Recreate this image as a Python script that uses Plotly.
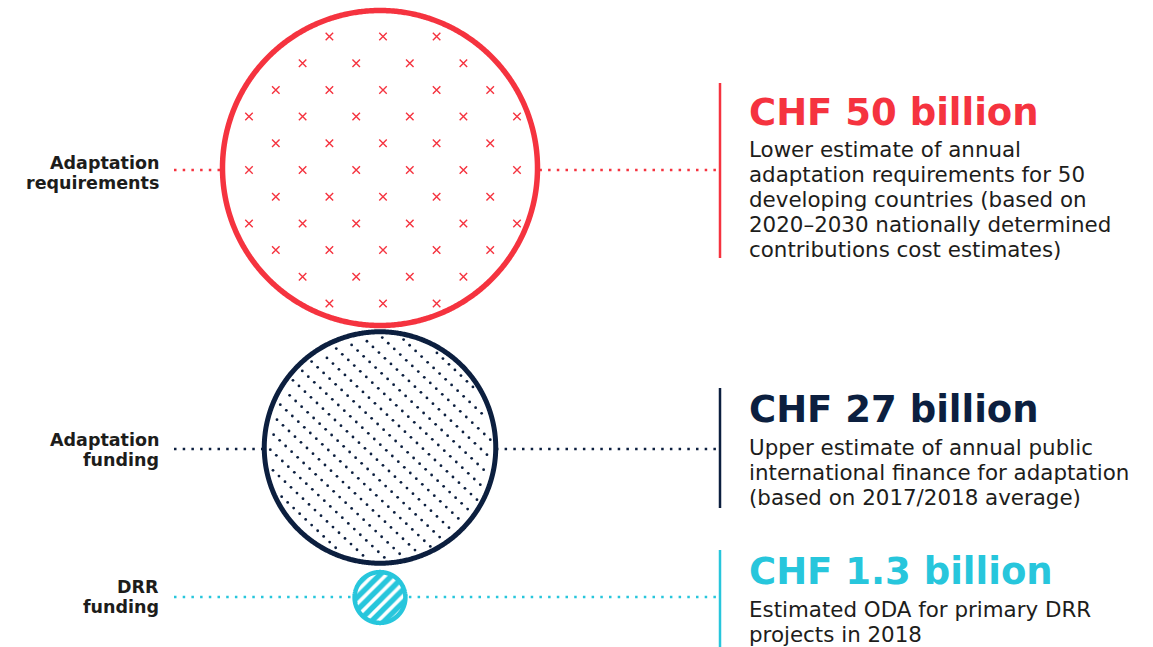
import numpy as np
import plotly.graph_objects as go

# ---------------- data ----------------
categories = ["Adaptation requirements", "Adaptation funding", "DRR funding"]
left_label_lines = [["Adaptation", "requirements"], ["Adaptation", "funding"], ["DRR", "funding"]]
values_bn = [50, 27, 1.3]
descriptions = [
    ["Lower estimate of annual",
     "adaptation requirements for 50",
     "developing countries (based on",
     "2020\u20132030 nationally determined",
     "contributions cost estimates)"],
    ["Upper estimate of annual public",
     "international finance for adaptation",
     "(based on 2017/2018 average)"],
    ["Estimated ODA for primary DRR",
     "projects in 2018"],
]

# ---------------- style / layout ----------------
W, H = 1153, 647
colors = ["#f5333f", "#0c1f3f", "#27c6dc"]
text_color = "#1d1d1b"
FONT = "DejaVu Sans"
CX = 380
centers_y = [168, 447.5, 597.5]
R_MAX = 157.5            # drawn radius for the largest value (area-proportional scaling)
outline_w = [5.5, 5, 4.5]
conn_y = [170, 449, 597]
left_baselines = [[169, 189.4], [446, 466.4], [593, 613.4]]
title_baselines = [125, 422.7, 584]
body_first = [157, 455, 617]
body_step = [25, 25, 24.5]
bar_spans = [(83, 258), (388, 508), (550, 647)]
BAR_X = 720
TEXT_X = 748
LEFT_X = 160
TITLE_FS, BODY_FS, LEFT_FS = 37, 21.4, 17.5

radii = [R_MAX * np.sqrt(v / max(values_bn)) for v in values_bn]

fig = go.Figure()

# dotted connectors
for i in range(3):
    fig.add_trace(go.Scatter(x=[174, 718], y=[conn_y[i]] * 2, mode="lines",
                             line=dict(color=colors[i], width=2.5, dash="2.5px,6.2px"),
                             hoverinfo="skip"))

theta = np.linspace(0, 2 * np.pi, 721)
for i in range(3):
    r = radii[i]
    xs = CX + r * np.cos(theta)
    ys = centers_y[i] + r * np.sin(theta)
    kw = dict(fillcolor="white")
    if i == 2:
        kw = dict(fillcolor="white",
                  fillpattern=dict(shape="/", fgcolor=colors[2], bgcolor="white",
                                   fgopacity=1, size=9, solidity=0.6))
    fig.add_trace(go.Scatter(x=xs, y=ys, mode="lines", fill="toself",
                             line=dict(color=colors[i], width=outline_w[i], simplify=False),
                             hoverinfo="skip", **kw))

# red "x" pattern (staggered grid, clipped to the circle)
px, py = [], []
r0 = radii[0]
for k in range(-7, 8):
    yy = 170 + k * 26.7
    off = 0 if k % 2 else 26.8
    for j in range(-6, 7):
        xx = 383 + off + j * 53.6
        if np.hypot(xx - CX, yy - centers_y[0]) < r0 * 0.965:
            px.append(xx)
            py.append(yy)
fig.add_trace(go.Scatter(x=px, y=py, mode="markers",
                         marker=dict(symbol="x-thin", size=7.5, line=dict(width=1.4, color=colors[0])),
                         hoverinfo="skip"))

# navy dot pattern (oblique lattice, clipped to the circle)
dx, dy = [], []
r1 = radii[1]
v1 = np.array([6.0, 5.67])
v2 = np.array([15.33, -3.67])
orig = np.array([314.3, 382.3])
for a in range(-60, 61):
    for b in range(-25, 26):
        p = orig + a * v1 + b * v2
        if np.hypot(p[0] - CX, p[1] - centers_y[1]) < r1 - 4.5:
            dx.append(p[0])
            dy.append(p[1])
fig.add_trace(go.Scatter(x=dx, y=dy, mode="markers",
                         marker=dict(symbol="circle", size=2.8, color=colors[1]),
                         hoverinfo="skip"))

# vertical bars
for i in range(3):
    fig.add_shape(type="line", x0=BAR_X, x1=BAR_X, y0=bar_spans[i][0], y1=bar_spans[i][1],
                  line=dict(color=colors[i], width=2.5))

def ann(text, x, baseline, fs, color, weight="normal", anchor="left"):
    fig.add_annotation(x=x, y=baseline - 0.346 * fs, text=text, showarrow=False,
                       xanchor=anchor, yanchor="middle", borderpad=0,
                       font=dict(family=FONT, size=fs, color=color, weight=weight))

for i in range(3):
    for li, line in enumerate(left_label_lines[i]):
        ann(line, LEFT_X, left_baselines[i][li], LEFT_FS, text_color, "bold", "right")
    ann(f"CHF {values_bn[i]:g} billion", TEXT_X, title_baselines[i], TITLE_FS, colors[i], "bold")
    for li, line in enumerate(descriptions[i]):
        ann(line, TEXT_X, body_first[i] + li * body_step[i], BODY_FS, text_color)

fig.update_layout(width=W, height=H, margin=dict(l=0, r=0, t=0, b=0),
                  paper_bgcolor="white", plot_bgcolor="white", showlegend=False,
                  xaxis=dict(range=[0, W], visible=False, fixedrange=True),
                  yaxis=dict(range=[H, 0], visible=False, fixedrange=True))

fig.write_html("out.html", config={"displayModeBar": False},
               post_script="document.body.style.margin='0';"
                           "document.documentElement.style.overflow='hidden';")
